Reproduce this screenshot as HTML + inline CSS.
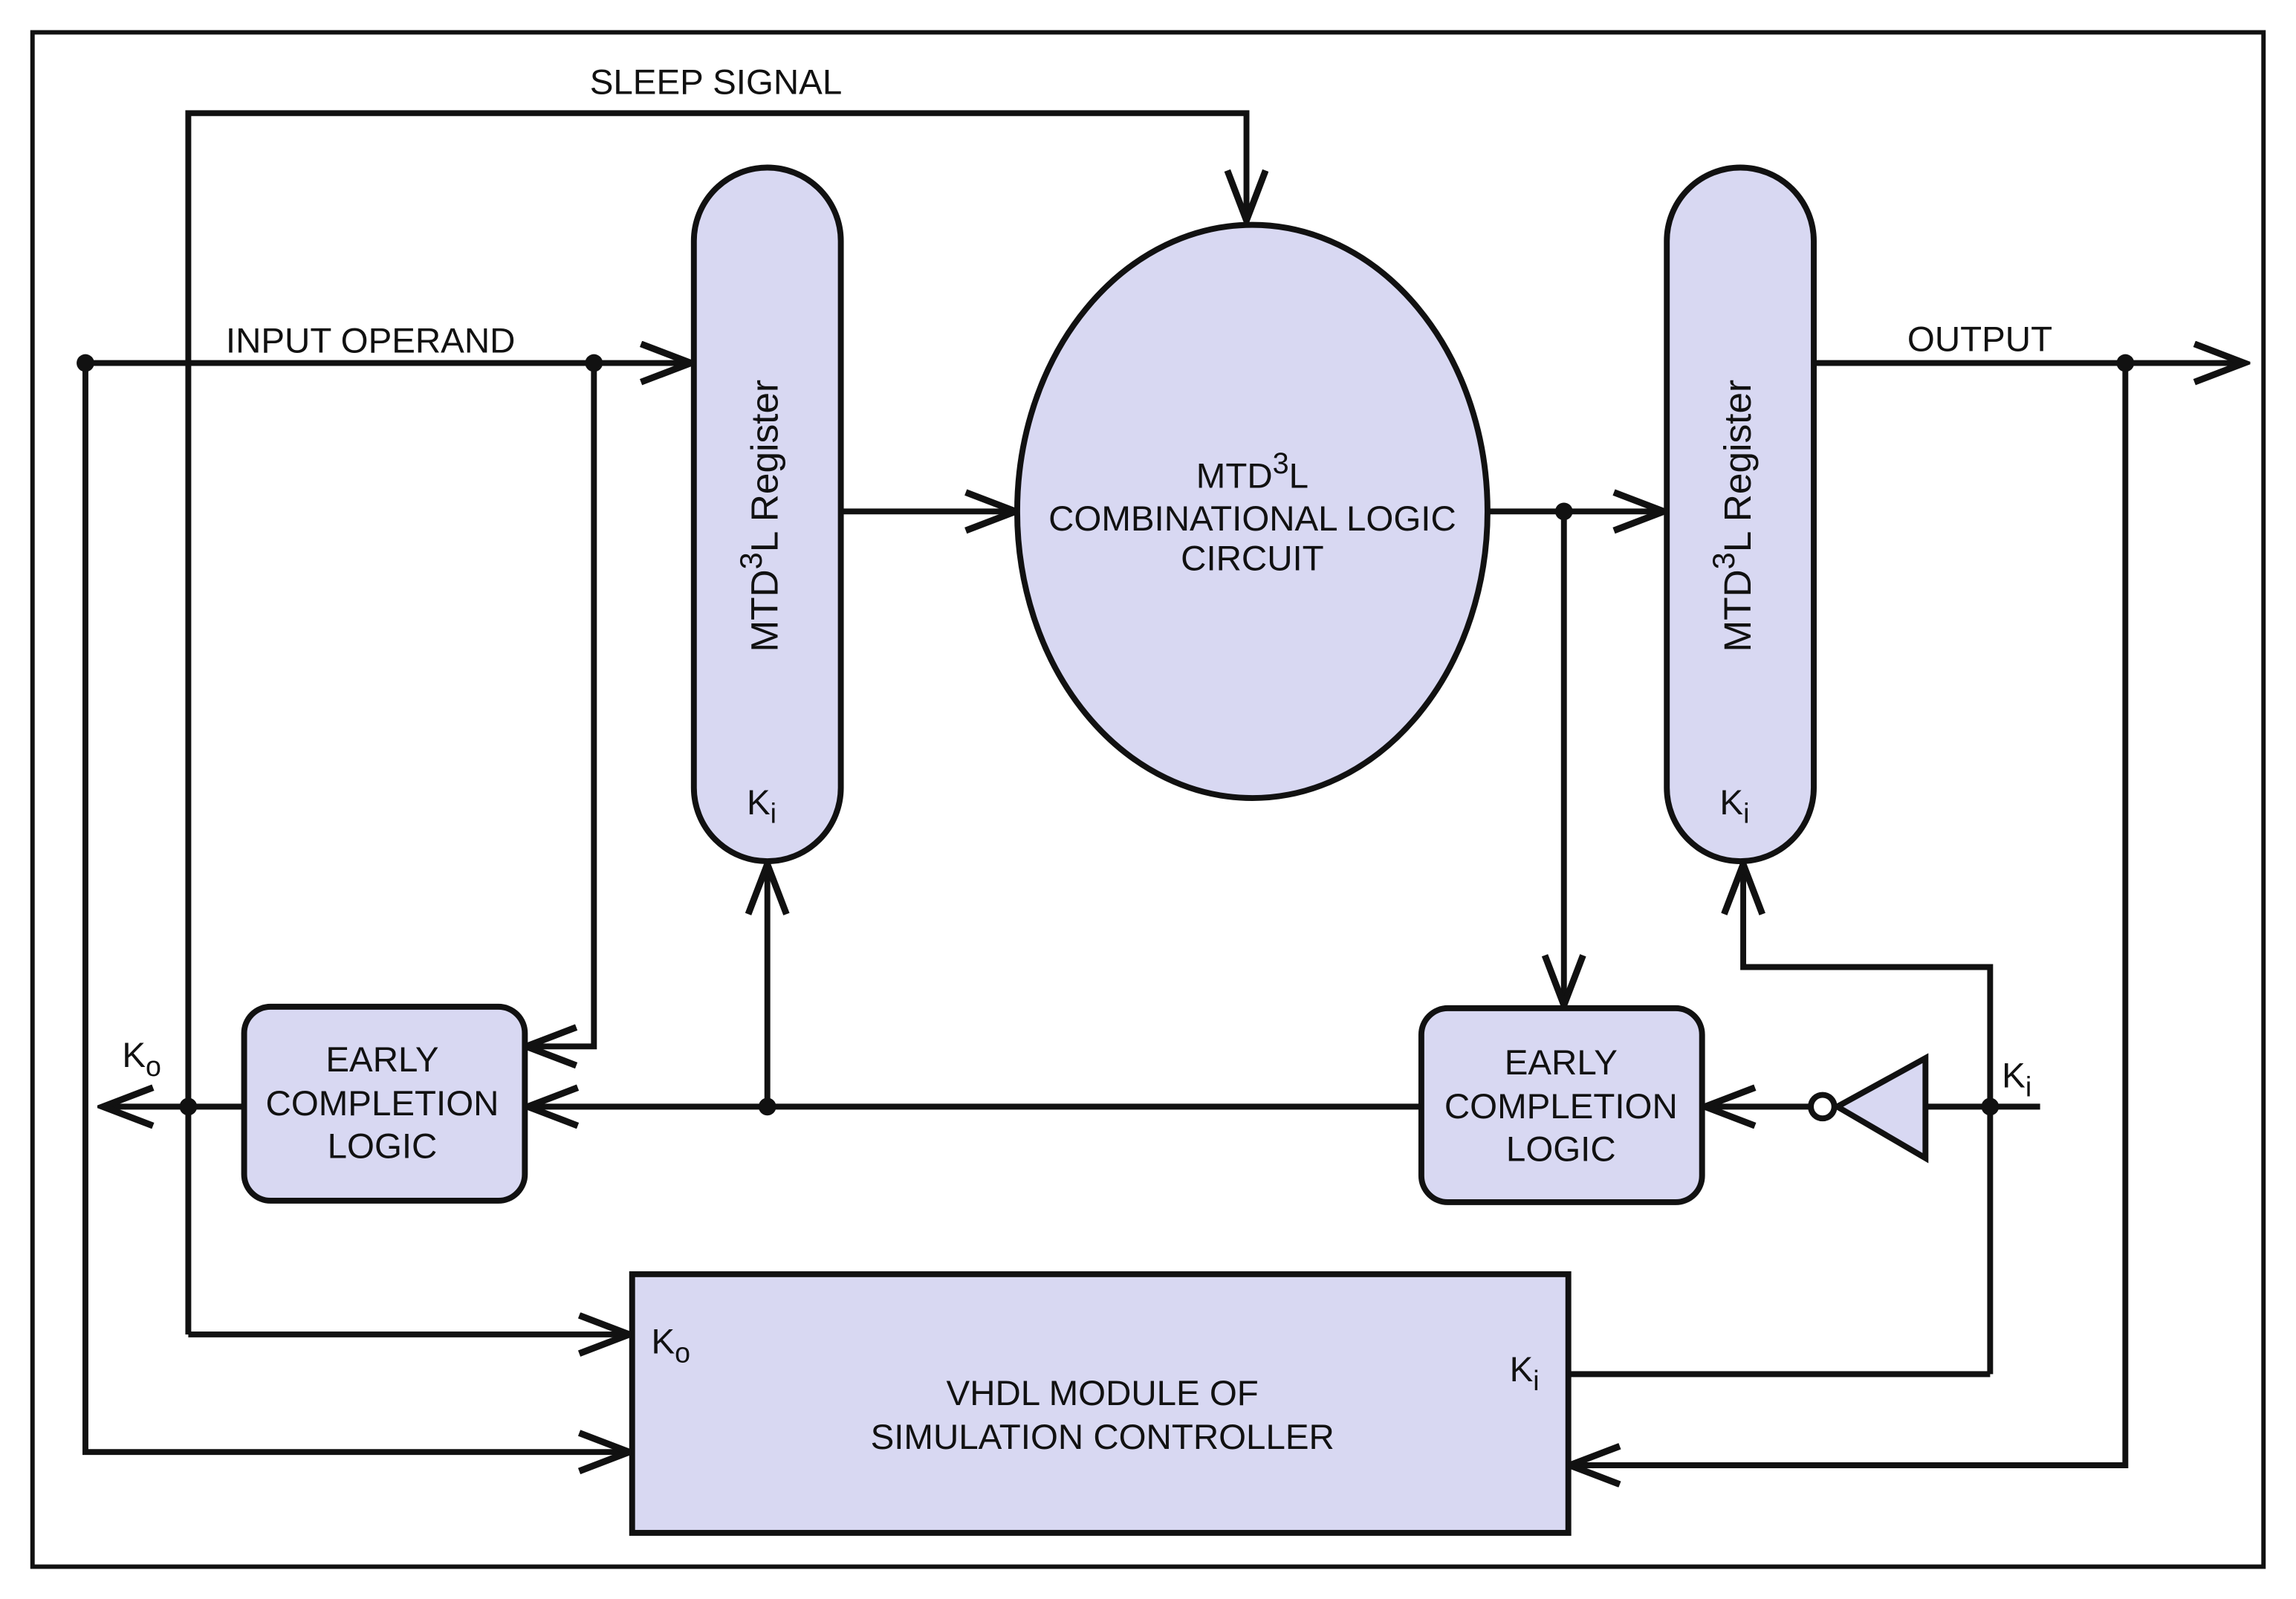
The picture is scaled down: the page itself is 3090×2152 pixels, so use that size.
<!DOCTYPE html>
<html><head><meta charset="utf-8"><style>
html,body{margin:0;padding:0;background:#fff}
svg{display:block}
text{font-family:"Liberation Sans",sans-serif;fill:#111}
</style></head><body>
<svg width="3090" height="2152" viewBox="0 0 1562 1088" xmlns="http://www.w3.org/2000/svg">
<defs>
<marker id="a" markerUnits="userSpaceOnUse" markerWidth="40" markerHeight="32" refX="36" refY="15" orient="auto" viewBox="0 0 40 32">
<path d="M2,2 L36,15 L2,28" fill="none" stroke="#111" stroke-width="4.5" stroke-linejoin="miter"/>
</marker>
</defs>
<rect x="22" y="22" width="1518" height="1044" fill="#fff" stroke="#111" stroke-width="3"/>
<g fill="none" stroke="#111" stroke-width="4">
<polyline points="128,908 128,77 848,77 848,150" marker-end="url(#a)"/>
<line x1="128" y1="908" x2="428" y2="908" marker-end="url(#a)"/>
<line x1="58" y1="247" x2="470" y2="247" marker-end="url(#a)"/>
<polyline points="58,247 58,988 428,988" marker-end="url(#a)"/>
<polyline points="404,247 404,712 358,712" marker-end="url(#a)"/>
<line x1="572" y1="348" x2="691" y2="348" marker-end="url(#a)"/>
<line x1="1013" y1="348" x2="1132" y2="348" marker-end="url(#a)"/>
<line x1="1064" y1="348" x2="1064" y2="684" marker-end="url(#a)"/>
<line x1="1234" y1="247" x2="1527" y2="247" marker-end="url(#a)"/>
<polyline points="1446,247 1446,997 1068,997" marker-end="url(#a)"/>
<line x1="967" y1="753" x2="359" y2="753" marker-end="url(#a)"/>
<line x1="522" y1="753" x2="522" y2="588" marker-end="url(#a)"/>
<line x1="166" y1="753" x2="70" y2="753" marker-end="url(#a)"/>
<line x1="1232" y1="753" x2="1160" y2="753" marker-end="url(#a)"/>
<line x1="1310" y1="753" x2="1388" y2="753"/>
<polyline points="1354,935 1354,658 1186,658 1186,588" marker-end="url(#a)"/>
<line x1="1067" y1="935" x2="1354" y2="935"/>
</g>
<g fill="#d8d8f2" stroke="#111" stroke-width="4">
<rect x="472" y="114" width="100" height="472" rx="50"/>
<rect x="1134" y="114" width="100" height="472" rx="50"/>
<ellipse cx="852" cy="348" rx="160" ry="195"/>
<rect x="166" y="685" width="191" height="132" rx="18"/>
<rect x="967" y="686" width="191" height="132" rx="18"/>
<rect x="430" y="867" width="637" height="176"/>
<polygon points="1250,753 1310,720 1310,788"/>
<circle cx="1240" cy="753" r="8" fill="#fff"/>
</g>
<g fill="#111">
<circle cx="58" cy="247" r="6"/><circle cx="404" cy="247" r="6"/>
<circle cx="1064" cy="348" r="6"/><circle cx="1446" cy="247" r="6"/>
<circle cx="522" cy="753" r="6"/><circle cx="128" cy="753" r="6"/>
<circle cx="1354" cy="753" r="6"/>
</g>
<g font-size="24" text-anchor="middle">
<text x="487" y="64">SLEEP SIGNAL</text>
<text x="252" y="240">INPUT OPERAND</text>
<text x="1347" y="239">OUTPUT</text>
<text x="852" y="332">MTD<tspan font-size="20" dy="-10">3</tspan><tspan dy="10">L</tspan></text>
<text x="852" y="361">COMBINATIONAL LOGIC</text>
<text x="852" y="388">CIRCUIT</text>
<text x="260" y="729">EARLY</text><text x="260" y="759">COMPLETION</text><text x="260" y="788">LOGIC</text>
<text x="1062" y="731">EARLY</text><text x="1062" y="761">COMPLETION</text><text x="1062" y="790">LOGIC</text>
<text x="750" y="956">VHDL MODULE OF</text>
<text x="750" y="986">SIMULATION CONTROLLER</text>
</g>
<g font-size="26" text-anchor="middle">
<text transform="translate(529,351) rotate(-90)">MTD<tspan font-size="21" dy="-11">3</tspan><tspan dy="11">L Register</tspan></text>
<text transform="translate(1191,351) rotate(-90)">MTD<tspan font-size="21" dy="-11">3</tspan><tspan dy="11">L Register</tspan></text>
</g>
<g font-size="24">
<text x="508" y="554">K<tspan font-size="19" dy="6">i</tspan></text>
<text x="1170" y="554">K<tspan font-size="19" dy="6">i</tspan></text>
<text x="83" y="726">K<tspan font-size="19" dy="6">o</tspan></text>
<text x="1362" y="740">K<tspan font-size="19" dy="6">i</tspan></text>
<text x="443" y="921">K<tspan font-size="19" dy="6">o</tspan></text>
<text x="1027" y="940">K<tspan font-size="19" dy="6">i</tspan></text>
</g>
</svg>
</body></html>
